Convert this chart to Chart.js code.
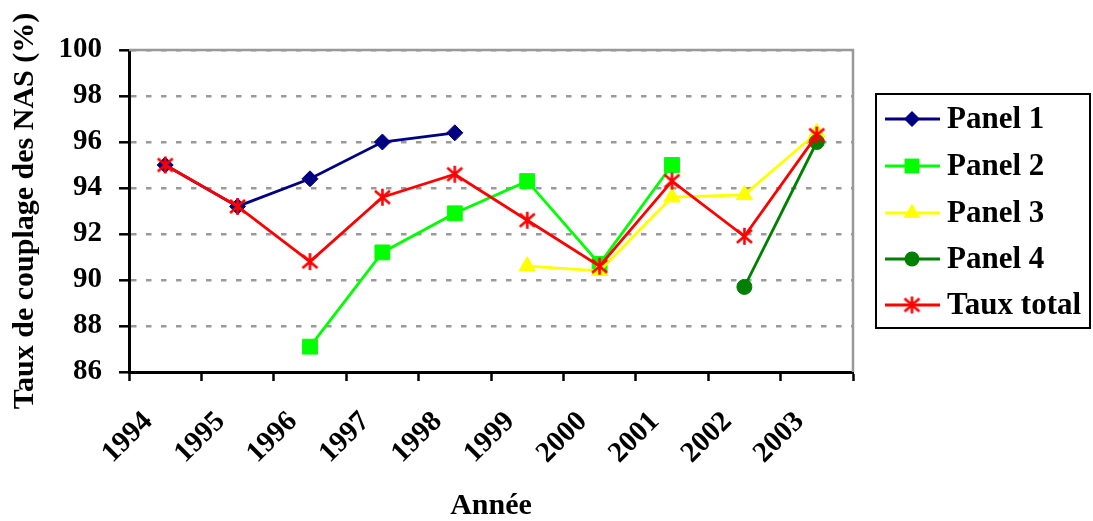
<!DOCTYPE html>
<html>
<head>
<meta charset="utf-8">
<script src="https://cdn.jsdelivr.net/npm/chart.js@4/dist/chart.umd.min.js"></script>
<style>
  body { margin: 0; background: #fff; }
  #wrap { width: 1093px; height: 521px; }
</style>
</head>
<body>
<div id="wrap"><canvas id="myChart" width="1093" height="521"></canvas></div>
<script>
var years = ['1994', '1995', '1996', '1997', '1998', '1999', '2000', '2001', '2002', '2003'];
var panel1 = [95.0, 93.2, 94.4, 96.0, 96.4, null, null, null, null, null];
var panel2 = [null, null, 87.1, 91.2, 92.9, 94.3, 90.7, 95.0, null, null];
var panel3 = [null, null, null, null, null, 90.6, 90.4, 93.6, 93.7, 96.4];
var panel4 = [null, null, null, null, null, null, null, null, 89.7, 96.0];
var tauxTotal = [95.0, 93.2, 90.8, 93.6, 94.6, 92.6, 90.6, 94.3, 91.9, 96.3];
var yMin = 86, yMax = 100, yStep = 2;

var FONT = '"Liberation Serif", "Times New Roman", serif';

// asterisk marker like the excel one (X + vertical bar)
function makeStar(color) {
	var c = document.createElement('canvas');
	c.width = 19; c.height = 19;
	var g = c.getContext('2d');
	g.strokeStyle = color;
	g.lineWidth = 2.6;
	g.beginPath();
	g.moveTo(2, 3); g.lineTo(17, 16);
	g.moveTo(17, 3); g.lineTo(2, 16);
	g.moveTo(9.5, 1); g.lineTo(9.5, 18);
	g.stroke();
	return c;
}
var starRed = makeStar('#ff0000');

var series = [
	{ label: 'Panel 1', data: panel1, color: '#000080', style: 'rectRot', radius: 8, order: 4 },
	{ label: 'Panel 2', data: panel2, color: '#00ff00', style: 'rect', radius: 10.5, order: 3 },
	{ label: 'Panel 3', data: panel3, color: '#ffff00', style: 'triangle', radius: 9.5, order: 2 },
	{ label: 'Panel 4', data: panel4, color: '#008000', style: 'circle', radius: 7.5, order: 1 },
	{ label: 'Taux total', data: tauxTotal, color: '#ff0000', style: starRed, radius: 9, order: 0 }
];

var datasets = series.map(function(s) {
	return {
		label: s.label,
		data: s.data,
		order: s.order,
		borderColor: s.color,
		backgroundColor: s.color,
		borderWidth: 2.8,
		pointStyle: s.style,
		pointRadius: s.radius,
		pointHoverRadius: s.radius,
		pointBorderWidth: 1,
		pointBorderColor: s.color,
		pointBackgroundColor: s.color,
		spanGaps: false,
		tension: 0
	};
});

function drawMarker(ctx, s, x, y) {
	var r = s.radius;
	ctx.save();
	ctx.fillStyle = s.color;
	ctx.beginPath();
	if (s.style === 'rectRot') {
		ctx.moveTo(x, y - r); ctx.lineTo(x + r, y); ctx.lineTo(x, y + r); ctx.lineTo(x - r, y);
		ctx.closePath(); ctx.fill();
	} else if (s.style === 'rect') {
		var h = r * Math.SQRT1_2;
		ctx.fillRect(x - h, y - h, 2 * h, 2 * h);
	} else if (s.style === 'triangle') {
		ctx.moveTo(x, y - r);
		ctx.lineTo(x + r * 0.866, y + r * 0.5);
		ctx.lineTo(x - r * 0.866, y + r * 0.5);
		ctx.closePath(); ctx.fill();
	} else if (s.style === 'circle') {
		ctx.arc(x, y, r, 0, Math.PI * 2); ctx.fill();
	} else {
		ctx.drawImage(s.style, x - s.style.width / 2, y - s.style.height / 2);
	}
	ctx.restore();
}

var framePlugin = {
	id: 'frame',
	beforeDatasetsDraw: function(chart) {
		var ctx = chart.ctx, a = chart.chartArea;
		ctx.save();
		ctx.strokeStyle = '#999999';
		ctx.lineWidth = 2.5;
		ctx.beginPath();
		ctx.moveTo(a.left, a.top);
		ctx.lineTo(a.right, a.top);
		ctx.lineTo(a.right, a.bottom);
		ctx.stroke();
		ctx.restore();
	},
	afterDraw: function(chart) {
		var ctx = chart.ctx;
		// legend box
		ctx.save();
		ctx.strokeStyle = '#000';
		ctx.lineWidth = 2;
		ctx.strokeRect(876, 94, 214, 234);
		ctx.font = 'bold 31px ' + FONT;
		ctx.textBaseline = 'middle';
		ctx.fillStyle = '#000';
		var rows = [119, 166, 213, 259, 305];
		for (var i = 0; i < series.length; i++) {
			var y = rows[i];
			ctx.strokeStyle = series[i].color;
			ctx.lineWidth = 2.8;
			ctx.beginPath();
			ctx.moveTo(885, y);
			ctx.lineTo(940, y);
			ctx.stroke();
			drawMarker(ctx, series[i], 912, y);
			ctx.fillText(series[i].label, 947, y + 1);
		}
		ctx.restore();
	}
};

var ctx = document.getElementById('myChart').getContext('2d');
var myChart = new Chart(ctx, {
	type: 'line',
	data: {
		labels: years,
		datasets: datasets
	},
	plugins: [framePlugin],
	options: {
		responsive: false,
		animation: false,
		events: [],
		layout: {
			padding: { left: 0, top: 50, right: 240, bottom: 0 }
		},
		plugins: {
			legend: { display: false },
			tooltip: { enabled: false }
		},
		scales: {
			x: {
				offset: true,
				afterFit: function(scale) { scale.height = 149; },
				grid: {
					offset: true,
					drawOnChartArea: false,
					drawTicks: true,
					tickLength: 9,
					tickColor: '#000',
					tickWidth: 2.5,
					color: '#000'
				},
				border: { color: '#000', width: 3 },
				ticks: {
					autoSkip: false,
					minRotation: 45,
					maxRotation: 45,
					padding: 24,
					labelOffset: -17,
					color: '#000',
					font: { family: FONT, size: 29, weight: 'bold' }
				},
				title: {
					display: true,
					text: 'Année',
					color: '#000',
					padding: { top: 0, bottom: 0 },
					font: { family: FONT, size: 30, weight: 'bold', lineHeight: 1.0 }
				}
			},
			y: {
				min: yMin,
				max: yMax,
				afterFit: function(scale) { scale.width = 129; },
				grid: {
					color: '#9a9a9a',
					lineWidth: 2.6,
					drawTicks: true,
					tickLength: 10,
					tickColor: '#000',
					tickWidth: 2.5,
					tickBorderDash: []
				},
				border: { color: '#000', width: 3, dash: [5.5, 9.5] },
				ticks: {
					stepSize: yStep,
					padding: 17,
					color: '#000',
					font: { family: FONT, size: 29, weight: 'bold' }
				},
				title: {
					display: true,
					text: 'Taux de couplage des NAS (%)',
					color: '#000',
					padding: { top: 10, bottom: 0 },
					font: { family: FONT, size: 30, weight: 'bold', lineHeight: 1.0 }
				}
			}
		}
	}
});
</script>
</body>
</html>
